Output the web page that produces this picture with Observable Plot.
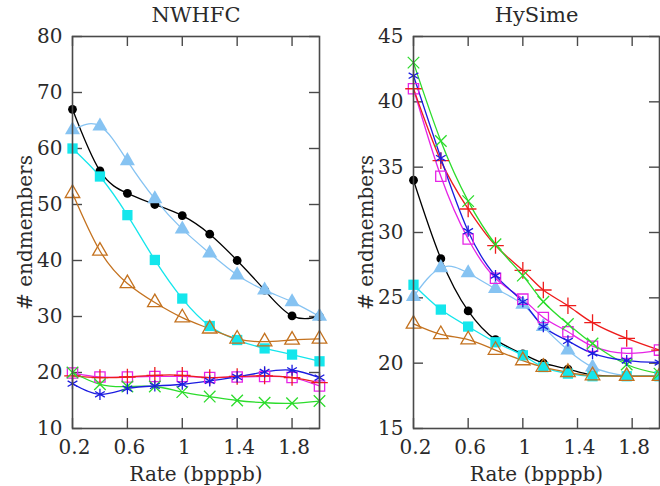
<!DOCTYPE html>
<html><head><meta charset="utf-8">
<script src="https://cdn.jsdelivr.net/npm/d3@7"></script>
<script src="https://cdn.jsdelivr.net/npm/@observablehq/plot@0.6"></script>
<style>
body{margin:0;background:#fff;}
#wrap{position:relative;width:660px;height:486px;overflow:hidden;background:#fff;}
#wrap svg{position:absolute;top:0;overflow:visible;background:transparent;}
#wrap svg, #wrap svg text{font-family:"DejaVu Serif", serif !important;}
</style></head><body><div id="wrap"></div>
<script>
// ---- data ----
const titles = ["NWHFC", "HySime"];
const xLabel = "Rate (bpppb)";
const yLabel = "# endmembers";
const xTicks = [0.2, 0.6, 1, 1.4, 1.8];
const yTicksNW = [10, 20, 30, 40, 50, 60, 70, 80];
const yTicksHS = [15, 20, 25, 30, 35, 40, 45];

const rateNW = [0.2, 0.4, 0.6, 0.8, 1.0, 1.2, 1.4, 1.6, 1.8, 2.0];
const nwBlack     = [67, 56, 52, 50, 48, 44.7, 40, 34.7, 30.1, 30];
const nwLightBlue = [63.3, 64, 57.8, 51, 45.6, 41.3, 37.4, 34.7, 32.6, 30];
const nwCyan      = [60, 55, 48.1, 40.1, 33.2, 28.3, 25.8, 24.3, 23.2, 22];
const nwBrown     = [52, 41.7, 35.9, 32.5, 29.8, 27.8, 26, 25.5, 25.8, 26];
const nwMagenta   = [19.9, 19.2, 19.2, 19.3, 19.3, 19.1, 19.2, 19.3, 19.1, 17.6];
const nwRed       = [19.4, 19.1, 19.2, 19.5, 19.5, 19.1, 19.3, 19.4, 19.1, 18.2];
const nwGreen     = [20, 17.9, 17.5, 17.5, 16.5, 15.7, 15, 14.6, 14.5, 14.9];
const nwBlue      = [18, 16.1, 17.1, 17.6, 17.9, 18.5, 19.2, 20.1, 20.4, 19.1];

const rateHS = [0.2, 0.4, 0.6, 0.8, 1.0, 1.15, 1.33, 1.51, 1.76, 2.0];
const hsBlack     = [34, 28, 24, 21.8, 20.7, 20, 19.55, 19.1, 19, 19];
const hsLightBlue = [25.1, 27.3, 26.9, 25.7, 24.5, 22.8, 21.0, 19.7, 19.05, 19.05];
const hsCyan      = [26, 24.1, 22.8, 21.6, 20.6, 19.7, 19.2, 19, 19, 19];
const hsBrown     = [23, 22.2, 21.8, 21, 20.2, 19.7, 19.3, 19.05, 19, 19];
const hsMagenta   = [41, 34.3, 29.5, 26.5, 24.9, 23.5, 22.4, 21.3, 20.75, 21];
const hsRed       = [41, 35.5, 31.8, 29, 27.1, 25.6, 24.4, 23.1, 21.9, 21];
const hsGreen     = [43, 37, 32.4, 29.1, 26.7, 24.7, 23, 21.5, 19.9, 19.2];
const hsBlue      = [42, 35.7, 30.1, 26.7, 24.7, 22.8, 21.7, 20.75, 20.2, 20.05];

// ---- styles per series ----
const styles = [
  {key: "black",     color: "#000000", symbol: "circle",   filled: true,  r: 4.4},
  {key: "lightblue", color: "#86c3f2", symbol: "triangle", filled: true,  r: 5.6},
  {key: "cyan",      color: "#14e6ec", symbol: "square",   filled: true,  r: 5.8},
  {key: "brown",     color: "#c4721f", symbol: "triangle", filled: false, r: 5.4},
  {key: "magenta",   color: "#e624e6", symbol: "square",   filled: false, r: 5.8},
  {key: "red",       color: "#ee1c1c", symbol: "plus",     filled: false, r: 5.4},
  {key: "green",     color: "#2cdc2c", symbol: "times",    filled: false, r: 5.3},
  {key: "blue",      color: "#1c1ce0", symbol: "asterisk", filled: false, r: 5.3}
];

const panels = [
  {title: titles[0], rate: rateNW, yTicks: yTicksNW, yDomain: [10, 80],
   series: [nwBlack, nwLightBlue, nwCyan, nwBrown, nwMagenta, nwRed, nwGreen, nwBlue],
   left: 0, width: 340, ml: 72, mr: 21},
  {title: titles[1], rate: rateHS, yTicks: yTicksHS, yDomain: [15, 45],
   series: [hsBlack, hsLightBlue, hsCyan, hsBrown, hsMagenta, hsRed, hsGreen, hsBlue],
   left: 340, width: 320, ml: 73, mr: 1}
];

const H = 486, MT = 36, MB = 58;
const wrap = document.getElementById("wrap");
const frameColor = "#4a4a4a";
const FS = 20;
const textColor = "#2a2a2a";

for (const p of panels) {
  const fw = p.width - p.ml - p.mr;
  const fh = H - MT - MB;
  const marks = [];
  // inward ticks on all four sides
  marks.push(Plot.tickY(p.yTicks, {y: d => d, insetRight: fw - 10, stroke: frameColor, strokeWidth: 1.4}));
  marks.push(Plot.tickY(p.yTicks, {y: d => d, insetLeft: fw - 10, stroke: frameColor, strokeWidth: 1.4}));
  marks.push(Plot.tickX(xTicks, {x: d => d, insetTop: fh - 10, stroke: frameColor, strokeWidth: 1.4}));
  marks.push(Plot.tickX(xTicks, {x: d => d, insetBottom: fh - 10, stroke: frameColor, strokeWidth: 1.4}));
  marks.push(Plot.axisY(p.yTicks, {tickSize: 0, tickPadding: 10, label: null, fill: textColor, fontSize: FS}));
  marks.push(Plot.axisX(xTicks, {tickSize: 0, tickPadding: 11, label: null, dx: 2, fill: textColor, fontSize: FS,
    tickFormat: d => String(d)}));
  p.series.forEach((vals, si) => {
    const st = styles[si];
    const rows = p.rate.map((x, i) => ({x, y: vals[i]}));
    marks.push(Plot.line(rows, {x: "x", y: "y", curve: "natural", stroke: st.color, strokeWidth: 1.3}));
  });
  p.series.forEach((vals, si) => {
    const st = styles[si];
    const rows = p.rate.map((x, i) => ({x, y: vals[i]}));
    marks.push(Plot.dot(rows, {x: "x", y: "y", symbol: st.symbol, r: st.r,
      fill: st.filled ? st.color : "none",
      stroke: st.filled ? "none" : st.color,
      strokeWidth: st.filled ? 0 : 1.3}));
  });
  marks.push(Plot.frame({stroke: frameColor, strokeWidth: 1.6}));
  marks.push(Plot.text([p.title], {text: d => d, frameAnchor: "top", dy: -21, fontSize: 21, lineAnchor: "middle", textAnchor: "middle", fill: textColor}));
  marks.push(Plot.text([xLabel], {text: d => d, frameAnchor: "bottom", dy: 46, fontSize: FS, lineAnchor: "middle", textAnchor: "middle", fill: textColor}));
  marks.push(Plot.text([yLabel], {text: d => d, frameAnchor: "left", dx: -47, rotate: -90, fontSize: FS, lineAnchor: "middle", textAnchor: "middle", fill: textColor}));

  const svg = Plot.plot({
    width: p.width, height: H,
    marginLeft: p.ml, marginRight: p.mr, marginTop: MT, marginBottom: MB,
    x: {domain: [0.2, 2.0]},
    y: {domain: p.yDomain},
    style: {background: "transparent", overflow: "visible"},
    marks
  });
  svg.style.left = p.left + "px";
  wrap.appendChild(svg);
}
</script></body></html>
